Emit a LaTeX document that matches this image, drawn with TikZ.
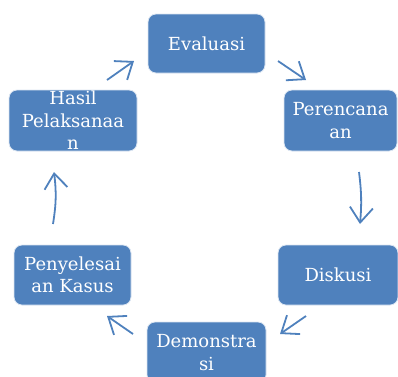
\documentclass[tikz,border=0pt]{standalone}
\usepackage{fontspec}
\setmainfont{DejaVu Serif}
\usetikzlibrary{arrows.meta}
\definecolor{boxblue}{HTML}{4F81BD}
\definecolor{arrblue}{HTML}{4F81BD}
\begin{document}
\begin{tikzpicture}[x=1pt,y=-1pt,
  box/.style={fill=boxblue,draw=white!80!boxblue,line width=0.8pt,rounded corners=8pt,
    text=white,align=center,inner sep=0pt,
    font=\fontsize{18}{22.5}\selectfont},
  arr/.style={draw=arrblue,line width=1.8pt,
    -{Straight Barb[length=15pt,width=23pt,line width=1.8pt]}}]
\useasboundingbox (0,0) rectangle (398,376);
\clip (0,0) rectangle (398,376);
\node[box,minimum width=117pt,minimum height=59pt] (eval) at (206.5,43.5) {Evaluasi};
\node[box,minimum width=113pt,minimum height=61pt] (peren) at (340.5,120.5) {Perencana\\an};
\node[box,minimum width=128pt,minimum height=61pt] (hasil) at (73,120.5) {Hasil\\Pelaksanaa\\n};
\node[box,minimum width=120pt,minimum height=60pt] (disk) at (338,275) {Diskusi};
\node[box,minimum width=117pt,minimum height=60pt] (peny) at (72.5,275) {Penyelesai\\an Kasus};
\node[box,minimum width=119pt,minimum height=61pt] (demo) at (206.5,352.5) {Demonstra\\si};
\coordinate (a1s) at (107,80);  \coordinate (a1e) at (134,61);
\coordinate (a2s) at (278,61);  \coordinate (a2e) at (306,80);
\coordinate (a3s) at (359,172); \coordinate (a3e) at (360,224);
\coordinate (a4s) at (306,316); \coordinate (a4e) at (280,334);
\coordinate (a5s) at (133,334); \coordinate (a5e) at (107,316);
\coordinate (a6s) at (53,224);  \coordinate (a6e) at (54,172);
\draw[arr] (a1s) -- (a1e);
\draw[arr] (a2s) -- (a2e);
\draw[arr] (a3s) to[bend left=6] (a3e);
\draw[arr] (a4s) -- (a4e);
\draw[arr] (a5s) -- (a5e);
\draw[arr] (a6s) to[bend right=8] (a6e);
\end{tikzpicture}
\end{document}
